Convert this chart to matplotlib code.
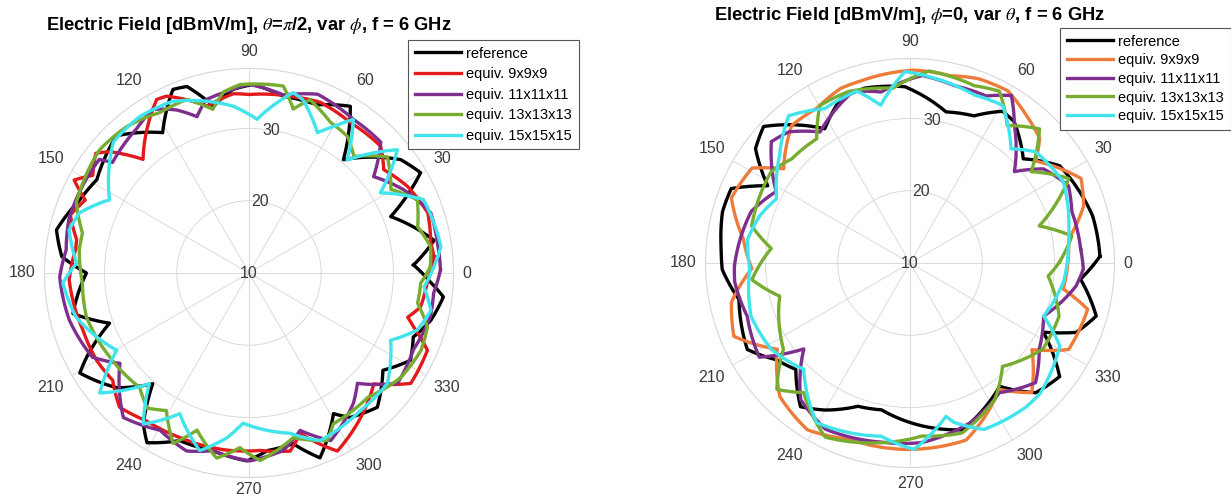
import numpy as np
import matplotlib
matplotlib.use("Agg")
import matplotlib.pyplot as plt

plt.rcParams['font.family'] = ['Liberation Sans', 'DejaVu Sans']
plt.rcParams['mathtext.fontset'] = 'stix'

# ---- left plot: theta = pi/2, phi varies (angle in deg, field in dBmV/m)
L_ref_deg = [2.8, 10, 21.7, 30.3, 36.8, 50.2, 58.7, 68, 79, 88.8, 95, 102, 108.4, 112.5, 121.6, 134,
             148.5, 156.6, 167.4, 175, 180, 193, 199.8, 207.4, 210.6, 221, 229, 235, 239, 247.5, 258.5,
             269.4, 276, 284.5, 291, 301, 305, 313.7, 324, 331.6, 338.7, 345.4, 353, 357.2]
L_ref_val = [32.8, 36.0, 31.1, 37.5, 36.2, 30.4, 37.0, 35.1, 34.9, 36.1, 35.5, 33.6, 37.2, 37.5, 32.8, 36.4,
             34.7, 35.5, 37.3, 36.0, 32.5, 35.0, 30.5, 35.3, 37.2, 34.2, 30.3, 35.5, 37.4, 35.1, 35.1,
             36.0, 34.7, 34.4, 37.4, 32.7, 34.4, 35.7, 32.9, 35.4, 34.4, 36.0, 37.1, 35.1]

L_9_deg = [5, 9.4, 18.6, 28.6, 37.5, 43.9, 56, 67.3, 77, 90, 95, 104, 115, 118, 133, 139, 142, 148, 152,
           156, 162, 169, 172, 182.2, 199, 210, 218.2, 226, 235.3, 247.2, 263, 273.6, 283, 287.7, 296.4,
           307.6, 318.4, 325.7, 336.6, 341.8, 344.4, 348.8, 356.8]
L_9_val = [35.7, 35.5, 36.1, 35.0, 33.5, 35.3, 35.1, 35.6, 35.1, 34.7, 34.9, 33.8, 37.0, 37.2, 31.5, 35.6,
           36.9, 35.5, 37.4, 34.8, 36.0, 34.3, 34.2, 34.9, 34.3, 34.3, 34.0, 35.8, 34.9, 34.7, 34.7, 34.6,
           35.3, 33.3, 37.5, 35.3, 33.1, 37.1, 36.9, 34.0, 32.8, 34.2, 34.7]

L_11_deg = [0.9, 9, 18.3, 28.3, 37.7, 44.8, 55.8, 69, 79, 90, 97, 104, 108.4, 114, 120.5, 128, 141, 142.8,
            157, 163.5, 172.8, 181.2, 194.7, 208.3, 215, 229, 240.5, 250.7, 258.5, 270.3, 281, 288, 296,
            308.7, 314.5, 323.4, 335, 346.3, 353.8]
L_11_val = [36.5, 36.4, 36.5, 34.3, 31.8, 35.7, 35.7, 36.5, 35.1, 36.1, 35.3, 34.7, 32.8, 34.7, 36.3, 35.3,
            34.3, 36.0, 36.0, 36.0, 35.5, 36.2, 35.7, 34.6, 31.8, 36.5, 35.0, 36.1, 35.1, 36.0, 35.0, 32.9,
            35.8, 33.1, 31.4, 35.6, 35.1, 35.8, 35.7]

L_13_deg = [1.9, 8.2, 15.3, 23.5, 30.5, 40, 48, 54.2, 61.6, 70.6, 74.9, 79.6, 92.7, 98, 102.5, 109.7, 119,
            129.9, 140.5, 157.8, 166.5, 172.3, 183.4, 195.2, 211.1, 226.3, 233, 239, 246, 251.7, 260.1,
            267, 273.4, 285, 295, 299.2, 313.6, 325.4, 335.8, 343.1, 349.9, 356.6]
L_13_val = [35.1, 35.4, 34.2, 35.4, 32.8, 35.0, 31.7, 33.3, 33.7, 35.4, 33.5, 36.3, 36.1, 35.3, 33.2, 35.5,
            35.4, 36.4, 36.8, 35.8, 33.7, 33.7, 33.1, 33.3, 32.5, 31.9, 33.4, 32.2, 35.8, 32.9, 36.0, 34.2,
            36.0, 33.6, 35.6, 33.9, 33.8, 35.5, 36.1, 35.8, 33.7, 33.8]

L_15_deg = [4.9, 7.8, 22.8, 31.4, 39.7, 49, 55.8, 60, 64, 72.7, 76.2, 87, 95.5, 102, 114, 125, 136, 152.3,
            160.5, 166.5, 176.7, 183.1, 194.3, 210.3, 218.8, 228, 235, 243.8, 254.5, 262.4, 267.7, 284.4,
            293, 309, 321.4, 334.6, 341.3, 348.4, 355.4]
L_15_val = [36.2, 36.8, 36.2, 31.3, 36.7, 30.7, 35.7, 33.4, 31.6, 35.1, 35.7, 31.3, 33.2, 34.2, 36.0, 36.4,
            36.1, 31.8, 34.9, 35.6, 33.9, 35.8, 34.7, 31.2, 36.5, 30.6, 35.5, 31.7, 35.5, 33.0, 30.8, 32.9,
            35.2, 34.5, 34.5, 31.7, 34.6, 35.7, 34.3]

# ---- right plot: phi = 0, theta varies
R_ref_deg = [2, 14.5, 25, 33, 42.6, 53.6, 58.6, 66.5, 76.6, 91.6, 104.5, 112.8, 122.4, 137, 143.5, 151.5,
             157.4, 164.7, 175.7, 182, 192, 208, 216, 223, 232.7, 240, 250, 259, 274.2, 287.4, 306, 314.1,
             322.8, 332.6, 337.3, 344.1, 354.6]
R_ref_val = [36.3, 36.1, 35.3, 34.7, 31.3, 34.3, 34.6, 32.2, 31.5, 34.4, 35.0, 34.7, 32.0, 37.7, 36.6, 32.4,
             36.8, 36.9, 36.2, 36.0, 34.2, 35.5, 32.8, 31.6, 35.0, 33.5, 31.1, 30.7, 32.6, 34.2, 31.1, 35.0,
             36.0, 30.8, 34.9, 36.8, 33.7]

R_9_deg = [1.5, 8.6, 18.2, 26.3, 39, 43.9, 51.7, 60.4, 69.7, 78, 88.8, 105, 111.6, 121, 130.7, 143.3, 149,
           160, 171.8, 182, 192.4, 202.6, 213, 225.7, 238.4, 251, 268.5, 287.6, 305.2, 313.2, 324.6, 331.4,
           345.4, 350.4]
R_9_val = [31.9, 32.2, 35.3, 36.4, 32.4, 34.9, 36.0, 37.4, 37.2, 36.5, 36.7, 36.1, 36.0, 35.0, 35.1, 31.8,
           35.5, 36.3, 33.3, 31.9, 35.3, 36.4, 31.9, 35.8, 37.1, 35.8, 35.8, 35.7, 31.4, 34.6, 30.7, 35.0,
           35.4, 31.5]

R_11_deg = [4.7, 17.6, 26, 35.2, 41.2, 52.8, 58.8, 65.5, 76, 86.3, 99.6, 108.4, 124.5, 132.7, 138.8, 151.9,
            162, 181, 186.2, 198.1, 212, 219, 231.3, 243, 260.8, 273.8, 291, 304.6, 316.4, 326.3, 338.3,
            352.1, 358]
R_11_val = [33.7, 33.5, 34.4, 32.6, 29.2, 33.9, 37.1, 35.4, 35.3, 36.0, 34.0, 35.0, 32.0, 34.7, 35.5, 31.0,
            33.1, 34.3, 34.4, 33.7, 34.6, 28.9, 34.2, 35.8, 35.1, 34.9, 33.6, 31.8, 34.0, 31.5, 29.9, 33.2,
            34.0]

R_13_deg = [0.4, 9.5, 16, 28, 37, 46, 54.7, 62.5, 70, 84.3, 95.6, 109.6, 119.8, 126.9, 138.6, 146.6, 166.8,
            174, 186, 194.3, 214.3, 223.5, 230.6, 244, 258.6, 274, 287, 302, 311.8, 327.1, 340.4, 354.6]
R_13_val = [30.7, 32.7, 28.6, 34.9, 31.0, 35.8, 33.3, 36.8, 36.1, 36.7, 34.3, 35.2, 35.1, 31.5, 31.8, 33.0,
            32.5, 29.3, 32.0, 28.6, 31.2, 35.4, 33.2, 36.8, 35.4, 34.0, 34.6, 32.2, 29.2, 31.9, 31.9, 29.2]

R_15_deg = [5, 11.1, 27.9, 41.6, 48.5, 59.6, 69, 82.6, 91.5, 100.5, 107.2, 118.9, 129.5, 140.5, 154.3,
            162.6, 171.6, 182, 198.5, 212, 225, 239.7, 260.5, 271.2, 283.2, 285.5, 294, 309, 314.9, 331,
            338.3, 353]
R_15_val = [32.0, 32.4, 34.0, 33.2, 31.1, 35.3, 34.9, 35.8, 36.5, 32.2, 34.9, 34.4, 36.4, 33.4, 30.5, 31.8,
            32.7, 32.2, 33.2, 32.6, 30.8, 35.6, 34.3, 35.8, 31.8, 32.9, 35.2, 35.6, 35.5, 33.7, 29.9, 31.4]

labels = ['reference', 'equiv. 9x9x9', 'equiv. 11x11x11', 'equiv. 13x13x13', 'equiv. 15x15x15']
left_colors = ['#000000', '#e3191c', '#7e2f8e', '#77ac30', '#41e4ec']
right_colors = ['#000000', '#ee7b3a', '#7e2f8e', '#77ac30', '#41e4ec']

left_series = [(L_ref_deg, L_ref_val), (L_9_deg, L_9_val), (L_11_deg, L_11_val),
               (L_13_deg, L_13_val), (L_15_deg, L_15_val)]
right_series = [(R_ref_deg, R_ref_val), (R_9_deg, R_9_val), (R_11_deg, R_11_val),
                (R_13_deg, R_13_val), (R_15_deg, R_15_val)]

W, H = 1231, 499
RMIN, RMAX = 10, 38.3
GRID = '#dadada'
TXT = '#3a3a3a'

fig = plt.figure(figsize=(W / 100, H / 100), dpi=100)


def polar_panel(cx, cy, rad, series, colors, title, title_y, leg_xy, leg_spacing, bottom_gap):
    ax = fig.add_axes([(cx - rad) / W, (H - cy - rad) / H, 2 * rad / W, 2 * rad / H], projection='polar')
    lines = []
    for (deg, val), c in zip(series, colors):
        th = np.deg2rad(np.r_[deg, deg[0] + 360])
        r = np.r_[val, val[0]]
        ln, = ax.plot(th, r, color=c, lw=2.4, solid_joinstyle='round')
        # follow the polar grid between samples instead of straight chords
        ln.get_path()._interpolation_steps = 12
        lines.append(ln)
    ax.set_ylim(RMIN, RMAX)
    ax.set_xticks(np.deg2rad(np.arange(0, 360, 30)))
    ax.set_xticklabels([])
    ax.set_yticks([20, 30])
    ax.set_yticklabels([])
    ax.tick_params(length=0)
    ax.grid(True, color=GRID, lw=0.7)
    ax.spines['polar'].set_color(GRID)
    ax.spines['polar'].set_linewidth(0.9)

    # angle labels outside the rim
    for a in range(0, 360, 30):
        t = np.deg2rad(a)
        c, s = np.cos(t), np.sin(t)
        gap = (bottom_gap if a == 270 else 9) / (2 * rad)
        ha = 'left' if c > 0.1 else ('right' if c < -0.1 else 'center')
        va = 'bottom' if s > 0.1 else ('top' if s < -0.1 else 'center')
        ax.text(0.5 + (0.5 + gap) * c, 0.5 + (0.5 + gap) * s, str(a), transform=ax.transAxes,
                ha=ha, va=va, fontsize=11.5, color=TXT)
    # radial labels
    ax.text(0, RMIN, '10', ha='center', va='center', fontsize=11.5, color=TXT)
    for rv in [20, 30]:
        ax.text(np.deg2rad(81), rv, str(rv), ha='center', va='center', fontsize=11.5, color=TXT)

    fig.text(cx / W, 1 - title_y / H, title, ha='center', va='center', fontsize=13.2, fontweight='bold')
    ax.legend(lines, labels, loc='upper left', bbox_to_anchor=(leg_xy[0] / W, 1 - leg_xy[1] / H),
              bbox_transform=fig.transFigure, borderaxespad=0, fontsize=10.5, fancybox=False,
              framealpha=1, edgecolor='#555555', handlelength=3.2, handletextpad=0.35,
              labelspacing=leg_spacing, borderpad=0.45)
    ax.get_legend().get_frame().set_linewidth(0.8)
    return ax


polar_panel(249, 273, 204.5, left_series, left_colors,
            r'Electric Field [dBmV/m], $\theta$=$\pi$/2, var $\phi$, f = 6 GHz', 25, (408, 40), 0.45, 5)
polar_panel(910, 263, 204.5, right_series, right_colors,
            r'Electric Field [dBmV/m], $\phi$=0, var $\theta$, f = 6 GHz', 15, (1060, 28), 0.32, 9)

fig.savefig('out.png', dpi=100)
